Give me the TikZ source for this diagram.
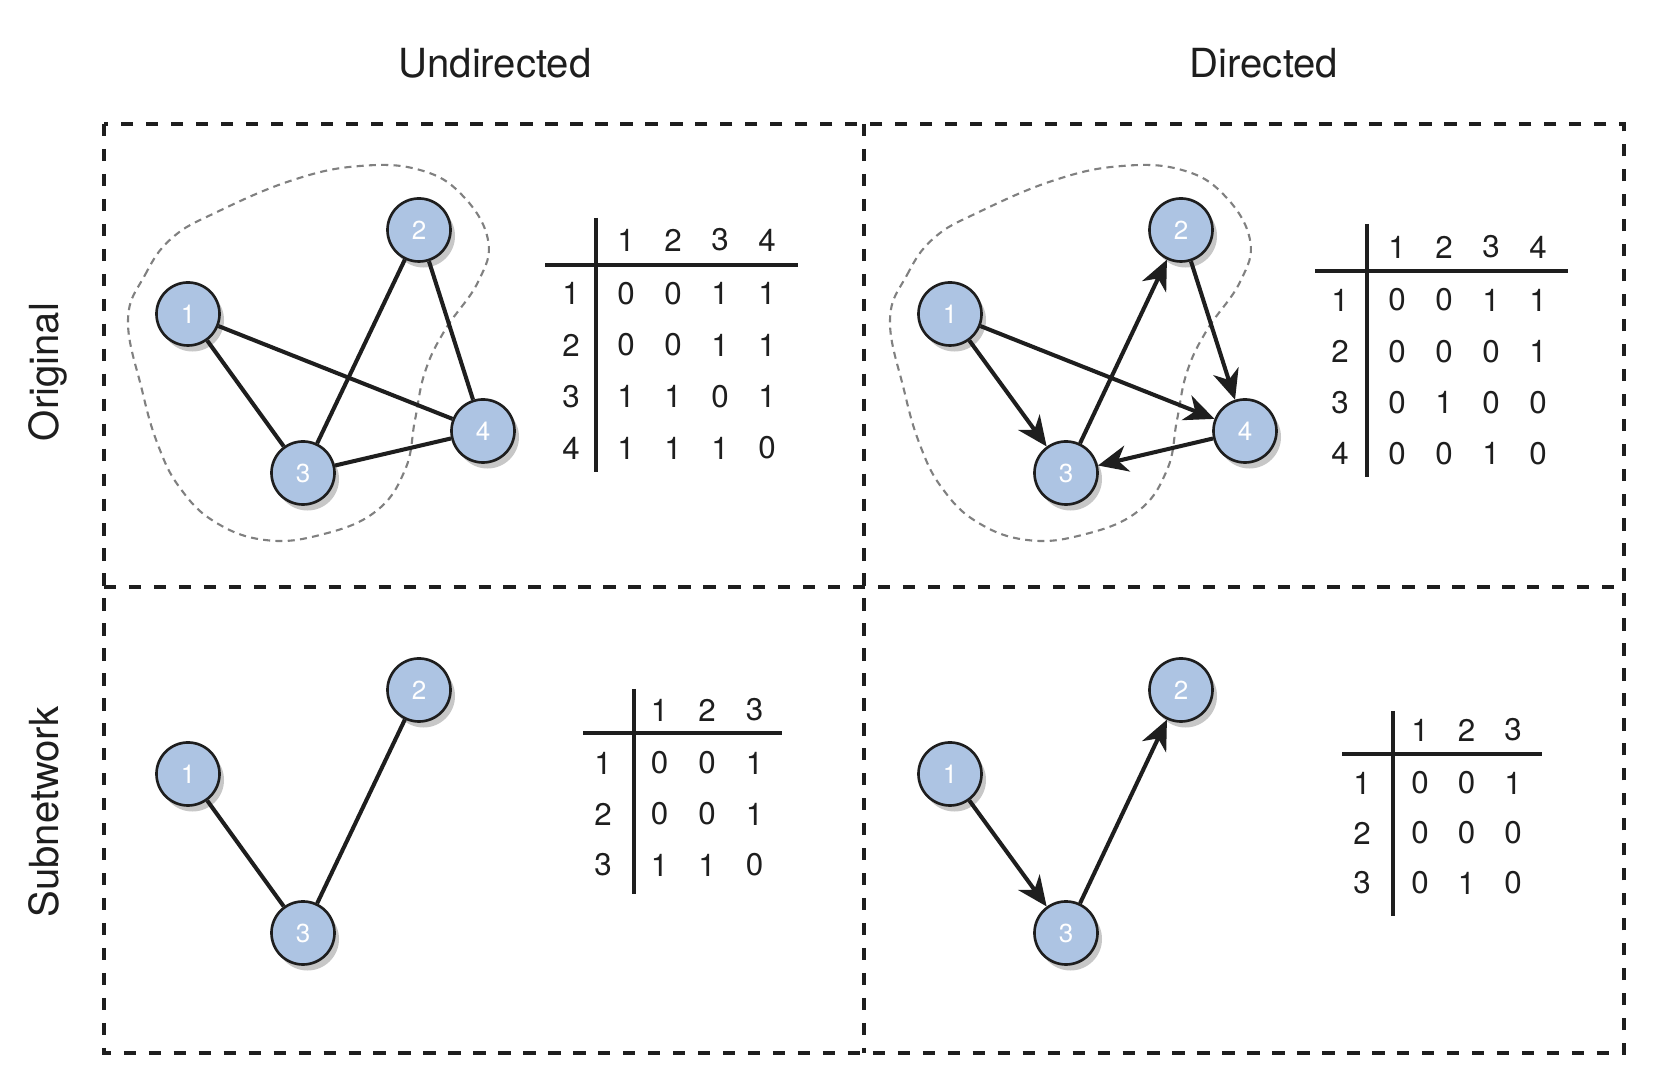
\documentclass[tikz,border=0pt]{standalone}
\usepackage{fontspec}
\setmainfont{TeX Gyre Heros}
\usetikzlibrary{arrows.meta,shadows}
\definecolor{nodeblue}{RGB}{173,196,227}
\definecolor{ink}{RGB}{30,30,30}

\begin{document}
\begin{tikzpicture}[x=0.01cm, y=-0.01cm]
  \tikzset{
    vtx/.style={circle, draw=ink, line width=0.75pt, fill=nodeblue, minimum size=0.63cm, inner sep=0pt,
      text=white, font=\fontsize{7.4}{8}\selectfont,
      drop shadow={shadow xshift=0.045cm, shadow yshift=-0.06cm, fill=black!22, opacity=1}},
    link/.style={draw=ink, line width=1.15pt},
    dirlink/.style={link, -{Stealth[length=8.5pt, width=7.5pt, inset=2.6pt]}},
    panel/.style={draw=ink, line width=1.15pt, dash pattern=on 3.5pt off 3.6pt},
    blob/.style={draw=black!50, line width=0.6pt, dash pattern=on 2pt off 1.5pt},
    rule/.style={draw=ink, line width=1.2pt},
    entry/.style={font=\fontsize{8.9}{10}\selectfont, text=ink, inner sep=0pt},
    heading/.style={font=\fontsize{11.4}{13}\selectfont, text=ink, inner sep=0pt}
  }
  \useasboundingbox (0,0) rectangle (1668,1092);

  % kopjes
  \node[heading, anchor=base] (hund) at (495,78) {Undirected};
  \node[heading, anchor=base] (hdir) at (1264,78) {Directed};
  \node[heading, anchor=base, rotate=90] (horig) at (58,372) {Original};
  \node[heading, anchor=base, rotate=90] (hsub) at (58,812) {Subnetwork};

  % vakken
  \draw[panel] (104,124) rectangle (1624,1053);
  \draw[panel] (864,124) -- (864,1053);
  \draw[panel] (104,587) -- (1624,587);

  % gestreepte omtrek van het deelnetwerk
  \foreach \dx in {0,762}
    \draw[blob, shift={(\dx,0)}] plot[smooth cycle, tension=0.7] coordinates {
      (128,320) (145,275) (172,238) (217,212) (293,180) (360,166) (420,170) (462,195)
      (488,240) (478,282) (445,330) (425,372) (415,420) (405,470) (375,512) (320,535)
      (265,540) (215,522) (180,488) (158,445) (142,390)};

  % origineel, ongericht
  \node[vtx] (ou1) at (188,314) {1};
  \node[vtx] (ou2) at (419,230) {2};
  \node[vtx] (ou3) at (303,473) {3};
  \node[vtx] (ou4) at (483,431) {4};
  \draw[link] (ou1) -- (ou3);
  \draw[link] (ou1) -- (ou4);
  \draw[link] (ou2) -- (ou3);
  \draw[link] (ou2) -- (ou4);
  \draw[link] (ou3) -- (ou4);

  % origineel, gericht
  \node[vtx] (od1) at (950,314) {1};
  \node[vtx] (od2) at (1181,230) {2};
  \node[vtx] (od3) at (1066,473) {3};
  \node[vtx] (od4) at (1245,431) {4};
  \draw[dirlink] (od1) -- (od3);
  \draw[dirlink] (od1) -- (od4);
  \draw[dirlink] (od3) -- (od2);
  \draw[dirlink] (od2) -- (od4);
  \draw[dirlink] (od4) -- (od3);

  % deelnetwerk, ongericht
  \node[vtx] (su1) at (188,774) {1};
  \node[vtx] (su2) at (419,690) {2};
  \node[vtx] (su3) at (303,933) {3};
  \draw[link] (su1) -- (su3);
  \draw[link] (su2) -- (su3);

  % deelnetwerk, gericht
  \node[vtx] (sd1) at (950,774) {1};
  \node[vtx] (sd2) at (1181,690) {2};
  \node[vtx] (sd3) at (1066,933) {3};
  \draw[dirlink] (sd1) -- (sd3);
  \draw[dirlink] (sd3) -- (sd2);

  % matrices
  \begin{scope}[shift={(596,265)}]
    \draw[rule] (0,-47) -- (0,207);
    \draw[rule] (-51,0) -- (202,0);
    \foreach \c in {1,...,4}
      \node[entry] (Mou-0-\c) at (30+47*\c-47,-25) {\c};
    \foreach \r/\vals in {1/{0,0,1,1},2/{0,0,1,1},3/{1,1,0,1},4/{1,1,1,0}} {
      \node[entry] (Mou-\r-0) at (-25,28.5+51.5*\r-51.5) {\r};
      \foreach \v [count=\c] in \vals
        \node[entry] (Mou-\r-\c) at (30+47*\c-47,28.5+51.5*\r-51.5) {\v};
    }
  \end{scope}

  \begin{scope}[shift={(1367,271)}]
    \draw[rule] (0,-47) -- (0,206);
    \draw[rule] (-52,0) -- (201,0);
    \foreach \c in {1,...,4}
      \node[entry] (Mod-0-\c) at (30+47*\c-47,-24) {\c};
    \foreach \r/\vals in {1/{0,0,1,1},2/{0,0,0,1},3/{0,1,0,0},4/{0,0,1,0}} {
      \node[entry] (Mod-\r-0) at (-27,29+51.3*\r-51.3) {\r};
      \foreach \v [count=\c] in \vals
        \node[entry] (Mod-\r-\c) at (30+47*\c-47,29+51.3*\r-51.3) {\v};
    }
  \end{scope}

  \begin{scope}[shift={(634,733)}]
    \draw[rule] (0,-44) -- (0,161);
    \draw[rule] (-51,0) -- (148,0);
    \foreach \c in {1,...,3}
      \node[entry] (Msu-0-\c) at (25.5+47.5*\c-47.5,-23) {\c};
    \foreach \r/\vals in {1/{0,0,1},2/{0,0,1},3/{1,1,0}} {
      \node[entry] (Msu-\r-0) at (-31,30+51*\r-51) {\r};
      \foreach \v [count=\c] in \vals
        \node[entry] (Msu-\r-\c) at (25.5+47.5*\c-47.5,30+51*\r-51) {\v};
    }
  \end{scope}

  \begin{scope}[shift={(1393,754)}]
    \draw[rule] (0,-43) -- (0,162);
    \draw[rule] (-51,0) -- (149,0);
    \foreach \c in {1,...,3}
      \node[entry] (Msd-0-\c) at (27+46.5*\c-46.5,-24) {\c};
    \foreach \r/\vals in {1/{0,0,1},2/{0,0,0},3/{0,1,0}} {
      \node[entry] (Msd-\r-0) at (-31,29+50*\r-50) {\r};
      \foreach \v [count=\c] in \vals
        \node[entry] (Msd-\r-\c) at (27+46.5*\c-46.5,29+50*\r-50) {\v};
    }
  \end{scope}
\end{tikzpicture}
\end{document}
